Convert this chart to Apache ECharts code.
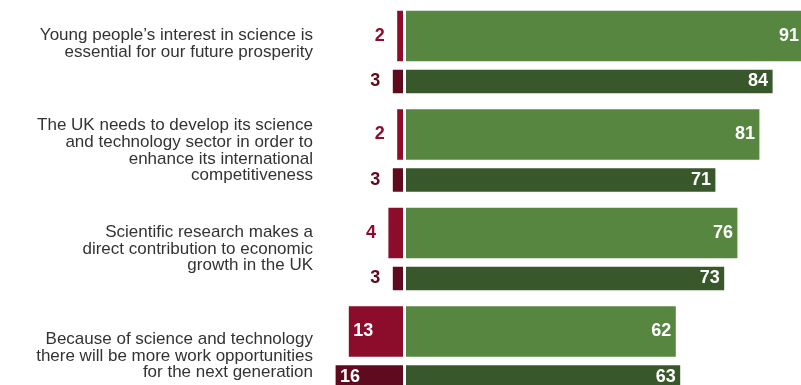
<!DOCTYPE html>
<html>
<head>
<meta charset="UTF-8">
<title></title>
<style>
	html, body { margin: 0; padding: 0; background: #fff; }
	#main { width: 801px; height: 385px; }
</style>
</head>
<body>
<div id="main"></div>
<script type="text/javascript" src="https://cdn.jsdelivr.net/npm/echarts@6/dist/echarts.min.js"></script>
<script type="text/javascript">
	var statements = [
		'Young people\u2019s interest in science is\nessential for our future prosperity\n',
		'The UK needs to develop its science\nand technology sector in order to\nenhance its international\ncompetitiveness',
		'Scientific research makes a\ndirect contribution to economic\ngrowth in the UK',
		'\nBecause of science and technology\nthere will be more work opportunities\nfor the next generation'
	];
	// top bar in each pair (wide) and bottom bar (narrow)
	var agreeTop = [91, 81, 76, 62];
	var disagreeTop = [2, 2, 4, 13];
	var agreeBottom = [84, 71, 73, 63];
	var disagreeBottom = [3, 3, 3, 16];

	var labelFont = { fontFamily: 'Liberation Sans, Arial, sans-serif', fontWeight: 'bold', fontSize: 18 };

	// small red values sit outside the bar, big ones inside in white
	function redLabel(val, color) {
		if (val >= 10) {
			return { show: true, position: 'insideLeft', distance: 6, color: '#fff', formatter: String(val) };
		}
		return { show: true, position: 'left', distance: 11, color: color, formatter: String(val) };
	}

	function negData(arr, color) {
		return arr.map(function (v) {
			return { value: -v, label: redLabel(v, color) };
		});
	}

	var myChart = echarts.init(document.getElementById('main'));
	var option = {
		animation: false,
		grid: { left: 316.5, top: 2.75, width: 528, height: 394, outerBoundsMode: 'none' },
		xAxis: {
			type: 'value',
			min: -20,
			max: 100,
			show: false
		},
		yAxis: {
			type: 'category',
			inverse: true,
			data: statements,
			axisLine: { show: false },
			axisTick: { show: false },
			splitLine: { show: false },
			axisLabel: {
				margin: 3.5,
				color: '#333',
				fontFamily: 'Liberation Sans, Arial, sans-serif',
				fontSize: 17,
				lineHeight: 16.7,
				align: 'right'
			}
		},
		series: [{
			name: 'disagreeTop',
			type: 'bar',
			stack: 'top',
			barWidth: 53.5,
			barGap: '10.3%',
			itemStyle: { color: '#8c0c2b', borderColor: '#fff', borderWidth: 1.5 },
			label: labelFont,
			data: negData(disagreeTop, '#8c0c2b')
		}, {
			name: 'agreeTop',
			type: 'bar',
			stack: 'top',
			barWidth: 53.5,
			barGap: '10.3%',
			itemStyle: { color: '#578640', borderColor: '#fff', borderWidth: 1.5 },
			label: Object.assign({ show: true, position: 'insideRight', distance: 6, color: '#fff' }, labelFont),
			data: agreeTop
		}, {
			name: 'disagreeBottom',
			type: 'bar',
			stack: 'bottom',
			barWidth: 26.5,
			barGap: '10.3%',
			itemStyle: { color: '#5f0a1e', borderColor: '#fff', borderWidth: 1.5 },
			label: labelFont,
			data: negData(disagreeBottom, '#5f0a1e')
		}, {
			name: 'agreeBottom',
			type: 'bar',
			stack: 'bottom',
			barWidth: 26.5,
			barGap: '10.3%',
			itemStyle: { color: '#38572a', borderColor: '#fff', borderWidth: 1.5 },
			label: Object.assign({ show: true, position: 'insideRight', distance: 6, color: '#fff' }, labelFont),
			data: agreeBottom
		}]
	};
	myChart.setOption(option);
</script>
</body>
</html>
